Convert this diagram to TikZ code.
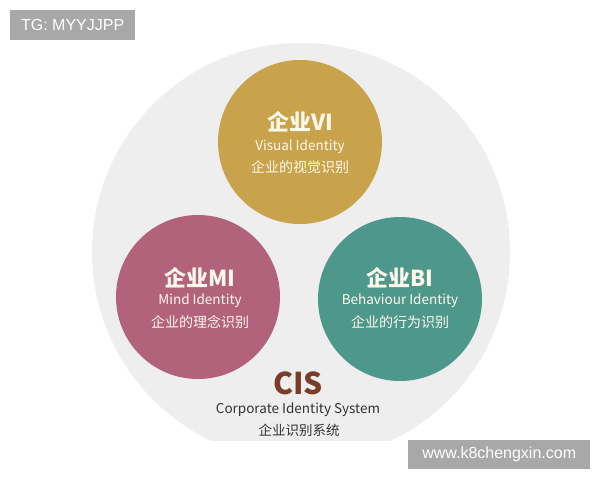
\documentclass[tikz,border=0pt]{standalone}
\usepackage{fontspec}
\newfontfamily\cjk{Noto Sans CJK SC}
\newfontfamily\lab{Liberation Sans}
\definecolor{bgcirc}{HTML}{EEEEEE}
\definecolor{goldc}{HTML}{C9A34C}
\definecolor{pinkc}{HTML}{B3627C}
\definecolor{tealc}{HTML}{4E978B}
\definecolor{cisc}{HTML}{7A3D28}
\definecolor{darkt}{HTML}{333333}
\definecolor{tagg}{HTML}{A8A8A8}
\definecolor{creamt}{HTML}{FFF9EC}
\tikzset{
  bubble/.style={circle, inner sep=0pt, minimum size=164pt, draw=none},
  title/.style={text=creamt, font=\cjk\bfseries\fontsize{22}{24}\selectfont, inner sep=0pt},
  subeng/.style={text=creamt, font=\cjk\fontsize{13.5}{15}\selectfont, inner sep=0pt},
  subcn/.style={text=creamt, font=\cjk\fontsize{14}{16}\selectfont, inner sep=0pt},
  tag/.style={fill=tagg, text=white, font=\lab\fontsize{16}{18}\selectfont, inner sep=0pt, anchor=north west}
}
\begin{document}
\begin{tikzpicture}[x=1pt,y=-1pt]
\useasboundingbox (0,0) rectangle (600,480);
\fill[white] (0,0) rectangle (600,480);
\begin{scope}
\clip (0,0) rectangle (600,440);
\fill[bgcirc] (301,252) circle (209pt);
\end{scope}
% bubbles
\node[bubble, fill=goldc] (vi) at (300,142) {};
\node[bubble, fill=pinkc] (mi) at (198,297) {};
\node[bubble, fill=tealc] (bi) at (400,299) {};
% VI texts
\node[title] (vit) at (300,122) {企业VI};
\node[subeng] (vie) at (300,147) {Visual Identity};
\node[subcn] (vic) at (300,167) {企业的视觉识别};
% MI texts
\node[title] (mit) at (200,278) {企业MI};
\node[subeng] (mie) at (200,301) {Mind Identity};
\node[subcn] (mic) at (200,322) {企业的理念识别};
% BI texts
\node[title] (bit) at (400,278) {企业BI};
\node[subeng] (bie) at (400,301) {Behaviour Identity};
\node[subcn] (bic) at (400,322) {企业的行为识别};
% CIS
\node[text=cisc, font=\cjk\bfseries\fontsize{30}{32}\selectfont, inner sep=0pt] (cis) at (298,383) {CIS};
\node[text=darkt, font=\cjk\fontsize{13.5}{15}\selectfont, inner sep=0pt] (cise) at (298,410) {Corporate Identity System};
\node[text=darkt, font=\cjk\fontsize{13.5}{15}\selectfont, inner sep=0pt] (cisc) at (299,430) {企业识别系统};
% tags
\node[tag, minimum width=125pt, minimum height=30pt] (tg) at (10,10) {TG: MYYJJPP};
\node[tag, minimum width=182pt, minimum height=29pt] (www) at (408,440) {www.k8chengxin.com};
\end{tikzpicture}
\end{document}
